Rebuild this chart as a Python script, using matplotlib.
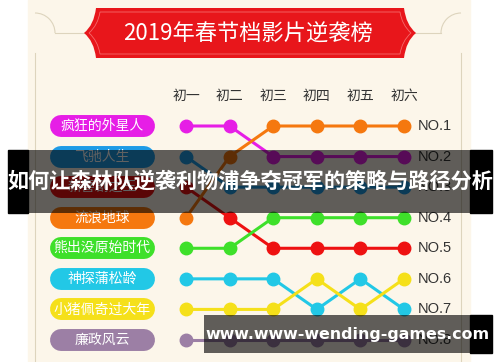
import matplotlib
matplotlib.use('Agg')
import matplotlib.pyplot as plt
from matplotlib.patches import Rectangle, Arc, PathPatch
from matplotlib.path import Path
from matplotlib.transforms import Affine2D, blended_transform_factory

plt.rcParams['font.family'] = ['Noto Sans CJK SC', 'DejaVu Sans']

# ---------------- data ----------------
title = '2019年春节档影片逆袭榜'
days = ['初一', '初二', '初三', '初四', '初五', '初六']
movies = ['疯狂的外星人', '飞驰人生', '新喜剧之王', '流浪地球',
          '熊出没原始时代', '神探蒲松龄', '小猪佩奇过大年', '廉政风云']
rank_crazy_alien = [1, 1, 2, 2, 2, 2]
rank_pegasus = [2, 3, 3, 3, 3, 3]
rank_comedy_king = [3, 4, 5, 5, 5, 5]
rank_wandering_earth = [4, 2, 1, 1, 1, 1]
rank_boonie_bears = [5, 5, 4, 4, 4, 4]
rank_pu_songling = [6, 6, 6, 7, 6, 7]
rank_peppa = [7, 7, 7, 6, 7, 6]
rank_integrity = [8, 8, 8, 8, 8, 8]
ranks = [rank_crazy_alien, rank_pegasus, rank_comedy_king, rank_wandering_earth,
         rank_boonie_bears, rank_pu_songling, rank_peppa, rank_integrity]
rank_labels = ['NO.1', 'NO.2', 'NO.3', 'NO.4', 'NO.5', 'NO.6', 'NO.7', 'NO.8']
colors = ['#e61ee6', '#1e9be6', '#ee1111', '#f5780f',
          '#3ee02a', '#22c8e6', '#f5e01a', '#9c7fa5']
overlay_text = '如何让森林队逆袭利物浦争夺冠军的策略与路径分析'
watermark = 'www.www-wending-games.com'

# ---------------- figure ----------------
W, H = 500, 362
fig = plt.figure(figsize=(5, 3.62), dpi=100)
ax = fig.add_axes([0, 0, 1, 1])
x0px, dx = 186, 43.6
y0px, dy = 126, 30.57
ax.set_xlim(-x0px / dx, (W - x0px) / dx)
ax.set_ylim(1 + (H - y0px) / dy, 1 - y0px / dy)
ax.axis('off')
pix = Affine2D().scale(1 / W, -1 / H).translate(0, 1) + ax.transAxes
bt = blended_transform_factory(pix, ax.transData)

cream = '#fcf6ea'
frame_c = '#ddd4bd'
ax.add_patch(Rectangle((0, 0), W, H, color='white', transform=pix, zorder=0))
ax.add_patch(Rectangle((28, 0), 442, H, color=cream, transform=pix, zorder=0))

# decorative frame
ax.plot([35, 35], [53, H], color=frame_c, lw=0.8, transform=pix, zorder=1)
ax.plot([461, 461], [53, H], color=frame_c, lw=0.8, transform=pix, zorder=1)
ax.plot([55, 90], [33, 33], color=frame_c, lw=0.8, transform=pix, zorder=1)
ax.plot([410, 441], [33, 33], color=frame_c, lw=0.8, transform=pix, zorder=1)
ax.add_patch(Arc((35, 33), 40, 40, theta1=-90, theta2=0, color=frame_c, lw=0.8,
                 transform=pix, zorder=1))
ax.add_patch(Arc((461, 33), 40, 40, theta1=180, theta2=270, color=frame_c, lw=0.8,
                 transform=pix, zorder=1))

# title banner
def banner_path(l, r, t, b, tip):
    m = (t + b) / 2
    verts = [(l + tip, t), (r - tip, t), (r - tip + 2, m - 8), (r, m),
             (r - tip + 2, m + 8), (r - tip, b), (l + tip, b), (l + tip - 2, m + 8),
             (l, m), (l + tip - 2, m - 8), (l + tip, t), (l + tip, t)]
    codes = [Path.MOVETO, Path.LINETO, Path.CURVE3, Path.CURVE3, Path.CURVE3, Path.CURVE3,
             Path.LINETO, Path.CURVE3, Path.CURVE3, Path.CURVE3, Path.CURVE3, Path.CLOSEPOLY]
    return Path(verts, codes)

ax.add_patch(PathPatch(banner_path(84, 416, 8, 58, 12), facecolor='#e8161b',
                       edgecolor='none', transform=pix, zorder=2))
ax.add_patch(PathPatch(banner_path(89, 411, 12, 54, 11), facecolor='none',
                       edgecolor='#f56a6a', lw=0.6, transform=pix, zorder=2))
ax.text(248, 34, title, color='white', fontsize=16, ha='center', va='center',
        transform=pix, zorder=3)

# column headers
for i, d in enumerate(days):
    ax.text(i, 0, d, fontsize=10, color='#333333', ha='center', va='center', zorder=3)

# rank labels
for r, lab in enumerate(rank_labels, start=1):
    ax.text(5.32, r, lab, fontsize=10.5, color='#333333', ha='left', va='center',
            family='Liberation Sans', zorder=3)

# movie pills
for i, (m, c) in enumerate(zip(movies, colors)):
    ax.plot([61, 144], [i + 1, i + 1], color=c, lw=15.8, solid_capstyle='round',
            transform=bt, zorder=3)
    ax.text(102, i + 1, m, color='white', fontsize=10, ha='center', va='center',
            transform=bt, zorder=4)

# bump lines
xs = list(range(len(days)))
for rk, c in zip(ranks, colors):
    ax.plot(xs, rk, color=c, lw=2.2, marker='o', markersize=9, zorder=5,
            solid_capstyle='round')

# overlay banners
ax.add_patch(Rectangle((8, 150), 20, 63, color='black', transform=pix, zorder=10))
ax.add_patch(Rectangle((470, 150), 22, 63, color='black', transform=pix, zorder=10))
ax.add_patch(Rectangle((28, 150), 442, 63, color='black', alpha=0.62, lw=0,
                       transform=pix, zorder=11))
ax.text(250, 181, overlay_text, color='white', fontsize=15.2, fontweight='bold',
        ha='center', va='center', transform=pix, zorder=12)

ax.add_patch(Rectangle((470, 315), 22, 38, color='black', transform=pix, zorder=10))
ax.add_patch(Rectangle((204, 315), 266, 38, color='black', alpha=0.62, lw=0,
                       transform=pix, zorder=11))
ax.text(347, 334, watermark, color='white', fontsize=11.4, fontweight='bold',
        ha='center', va='center', family='DejaVu Sans', transform=pix, zorder=12)

fig.savefig('out.png', dpi=100)
